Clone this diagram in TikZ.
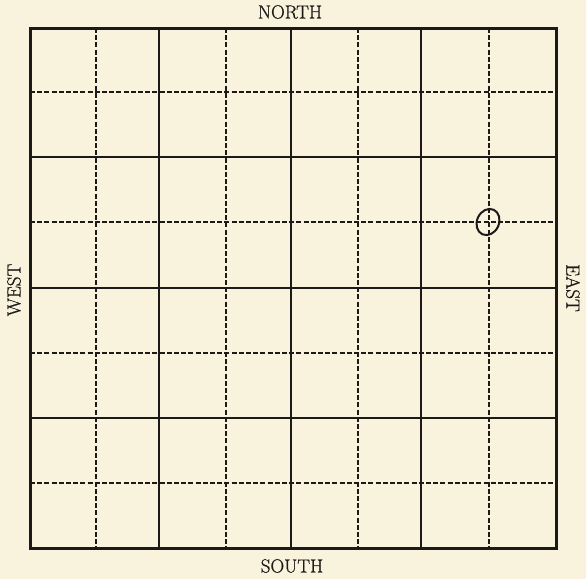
\documentclass[tikz,border=0pt]{standalone}
\usepackage{fontspec}
\newfontfamily\compassfont{Latin Modern Roman}[FakeBold=0.7]
\definecolor{paper}{RGB}{249,243,222}
\definecolor{ink}{RGB}{28,26,24}
\tikzset{
  frame/.style={draw=ink, line width=3pt},
  major/.style={draw=ink, line width=2.1pt},
  minor/.style={draw=ink, line width=1.3pt, dash pattern=on 5pt off 2.2pt},
  compass/.style={font=\compassfont\fontsize{19}{22}\selectfont, text=ink, inner sep=0pt}
}
\begin{document}
\begin{tikzpicture}[x=1pt,y=-1pt]
\fill[paper] (0,0) rectangle (586,579);
\useasboundingbox (0,0) rectangle (586,579);
% minor dashed lines
\foreach \x in {96,226,358,489} {
  \draw[minor] (\x,28) -- (\x,548);
}
\foreach \y in {92,222,353,483} {
  \draw[minor] (30,\y) -- (556,\y);
}
% major lines
\foreach \x in {159,291,421} {
  \draw[major] (\x,28) -- (\x,548);
}
\foreach \y in {157,288,418} {
  \draw[major] (30,\y) -- (556,\y);
}
\draw[frame] (30,28) rectangle (556,548);
% marked point
\draw[ink, line width=2pt, rotate around={-25:(488,222)}] (488,222) ellipse [x radius=11, y radius=13.5];
% labels
\node[compass] (north) at (290,12) {NORTH};
\node[compass] (south) at (292,566) {SOUTH};
\node[compass, rotate=90] (west) at (14,290) {WEST};
\node[compass, rotate=-90] (east) at (573,288) {EAST};
\end{tikzpicture}
\end{document}
